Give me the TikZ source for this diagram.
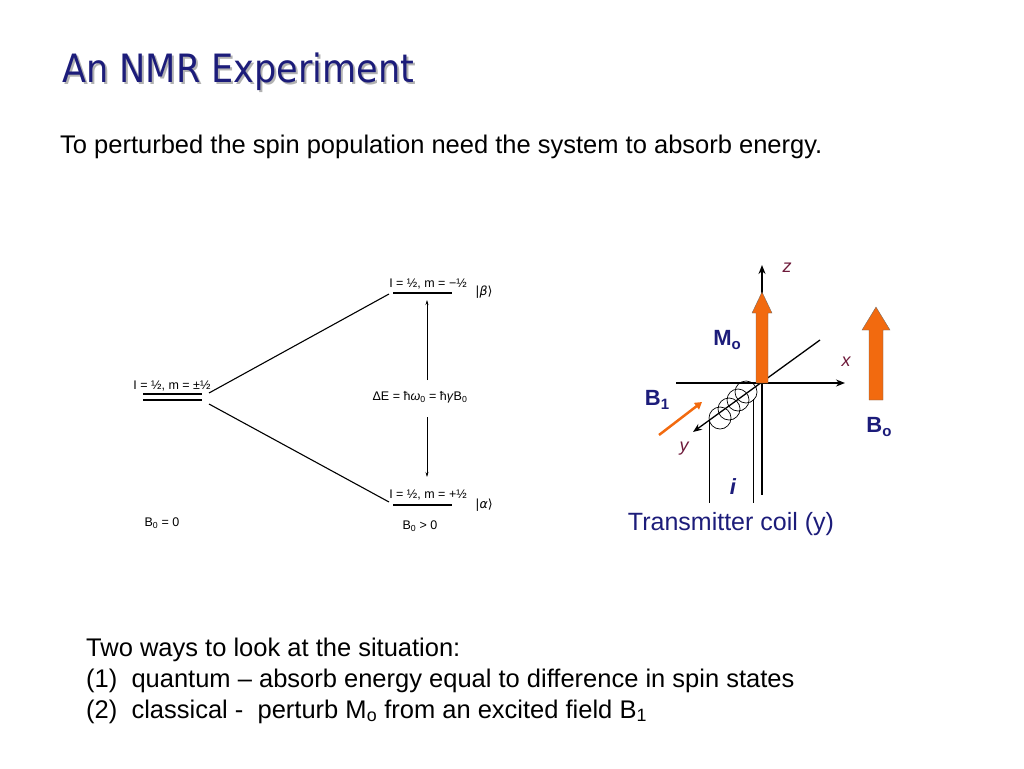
\documentclass[tikz,border=0pt]{standalone}
\usepackage{fontspec}
\setmainfont{Liberation Sans}
\newfontfamily\titlefont{DejaVu Sans Condensed}
\newfontfamily\dejavu{DejaVu Sans}
\usetikzlibrary{arrows.meta}
\definecolor{navy}{HTML}{1C1C7A}
\definecolor{maroon}{HTML}{6E1A3A}
\definecolor{orng}{HTML}{F26A0F}
\newcommand{\sbs}[1]{\textsubscript{#1}}
\tikzset{
  lvl/.style={line width=1.1pt},
  lbl/.style={font=\fontsize{12.5}{13}\selectfont, inner sep=0pt},
  ax/.style={line width=1.3pt,-{Stealth[length=9pt,width=7pt]}},
  axlbl/.style={font=\fontsize{18}{20}\selectfont\itshape, text=maroon, inner sep=0pt},
  bl/.style={font=\fontsize{22}{22}\selectfont\bfseries, text=navy, inner sep=0pt},
  big/.style={font=\fontsize{25.5}{28}\selectfont, inner sep=0pt, anchor=base west},
}
\begin{document}
\begin{tikzpicture}[x=1pt,y=-1pt]
\useasboundingbox (0,0) rectangle (1024,768);
% title
\node[anchor=base west, inner sep=0pt, font=\titlefont\fontsize{39}{42}\selectfont, text=gray!60] (tsh) at (64,84) {An NMR Experiment};
\node[anchor=base west, inner sep=0pt, font=\titlefont\fontsize{39}{42}\selectfont, text=navy] (title) at (62,82) {An NMR Experiment};
\node[big] (sub) at (60,153) {To perturbed the spin population need the system to absorb energy.};
% left energy diagram
\coordinate (d1a) at (143,394); \coordinate (d1b) at (202,394);
\coordinate (d2a) at (143,400); \coordinate (d2b) at (202,400);
\draw[lvl] (d1a) -- (d1b); \draw[lvl] (d2a) -- (d2b);
\node[lbl, anchor=base] (l0) at (172,389) {I = ½, m = ±½};
\coordinate (ta) at (393,293); \coordinate (tb) at (452,293);
\coordinate (ba) at (393,505); \coordinate (bb) at (452,505);
\draw[lvl] (ta) -- (tb); \draw[lvl] (ba) -- (bb);
\node[lbl, anchor=base] (lt) at (428,287) {I = ½, m = −½};
\node[lbl, anchor=base] (lb) at (428,498) {I = ½, m = +½};
\node[lbl, font=\dejavu\fontsize{12.5}{13}\selectfont] (beta) at (484,292) {|\textit{β}⟩};
\node[lbl, font=\dejavu\fontsize{12.5}{13}\selectfont] (alpha) at (484,505) {|\textit{α}⟩};
\coordinate (s1) at (209,393); \coordinate (s2) at (209,404);
\coordinate (e1) at (389,294); \coordinate (e2) at (389,502);
\draw[lvl] (s1) -- (e1); \draw[lvl] (s2) -- (e2);
\node[lbl] (dE) at (420,397) {ΔE = ħ\textit{ω}\sbs{0} = ħ\textit{γ}B\sbs{0}};
\coordinate (au) at (427,380); \coordinate (aut) at (427,300);
\coordinate (ad) at (427,417); \coordinate (adt) at (427,477);
\draw[line width=0.6pt,-{Stealth[length=5pt,width=3pt]}] (au) -- (aut);
\draw[line width=0.6pt,-{Stealth[length=5pt,width=3pt]}] (ad) -- (adt);
\node[lbl] (b00) at (162,523) {B\sbs{0} = 0};
\node[lbl] (b0g) at (420,526) {B\sbs{0} > 0};
% right 3D diagram
\coordinate (O) at (762,383);
\coordinate (zt) at (762,265); \coordinate (zb) at (762,495);
\coordinate (xl) at (676,383); \coordinate (xr) at (845,383);
\coordinate (yb) at (820,340); \coordinate (yt) at (693,432);
\draw[line width=1.3pt] (O) -- (zb);
\draw[ax] (O) -- (zt);
\draw[ax] (xl) -- (xr);
\draw[ax] (yb) -- (yt);
% coil
\foreach \cx/\cy in {720/418,729/409,738/400,746/392} \draw[line width=0.7pt] (\cx,\cy) circle (11);
\coordinate (w1t) at (709,420); \coordinate (w1b) at (709,503);
\coordinate (w2t) at (753,399); \coordinate (w2b) at (753,503);
\draw[line width=0.7pt] (w1t) -- (w1b); \draw[line width=0.7pt] (w2t) -- (w2b);
% orange arrows
\fill[orng, draw=black!60, line width=0.3pt] (756,383) -- (756,313) -- (752,313) -- (762,292) -- (772,313) -- (768,313) -- (768,383) -- cycle;
\fill[orng, draw=black!60, line width=0.3pt] (869,400) -- (869,330) -- (862,330) -- (876,307) -- (890,330) -- (883,330) -- (883,400) -- cycle;
\coordinate (b1s) at (659,435); \coordinate (b1e) at (702,402);
\draw[orng, line width=2.5pt, -{Triangle[length=7pt,width=8pt]}] (b1s) -- (b1e);
% labels
\node[axlbl] (zl) at (787,268) {z};
\node[axlbl] (xlb) at (846,362) {x};
\node[axlbl] (ylb) at (684,449) {y};
\node[bl] (Mo) at (727,340) {M\raisebox{-0.3ex}{\fontsize{15}{15}\selectfont o}};
\node[bl] (B1) at (657,400) {B\raisebox{-0.3ex}{\fontsize{15}{15}\selectfont 1}};
\node[bl] (Bo) at (879,427) {B\raisebox{-0.3ex}{\fontsize{15}{15}\selectfont o}};
\node[bl, font=\fontsize{22}{22}\selectfont\bfseries\itshape] (il) at (733,487) {i};
\node[inner sep=0pt, text=navy, font=\fontsize{25}{28}\selectfont] (tc) at (731,524) {Transmitter coil (y)};
% bottom text
\node[big] (t1) at (86,656) {Two ways to look at the situation:};
\node[big] (t2) at (86,687) {(1)\ \ quantum – absorb energy equal to difference in spin states};
\node[big] (t3) at (86,718) {(2)\ \ classical -\ \ perturb M\sbs{o} from an excited field B\sbs{1}};
\end{tikzpicture}
\end{document}
